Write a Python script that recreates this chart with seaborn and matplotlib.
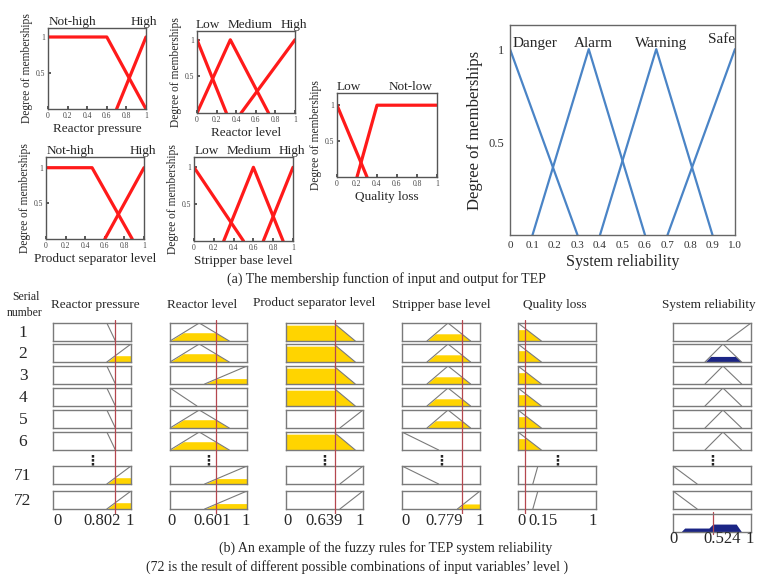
import numpy as np
import pandas as pd
import matplotlib
matplotlib.use("Agg")
import matplotlib.pyplot as plt
import seaborn as sns

# ---------------- data: (a) membership functions ----------------
rp_terms = ["Not-high", "High"]
rp_x = [[0, 0.6, 1.0], [0.7, 1.0]]
rp_y = [[1, 1, 0], [0, 1]]

rl_terms = ["Low", "Medium", "High"]
rl_x = [[0, 0.3], [0, 0.34, 0.73], [0.45, 1.0]]
rl_y = [[1, 0], [0, 1, 0], [0, 1]]

ps_terms = ["Not-high", "High"]
ps_x = [[0, 0.47, 0.88], [0.6, 1.0]]
ps_y = [[1, 1, 0], [0, 1]]

sb_terms = ["Low", "Medium", "High"]
sb_x = [[0, 0.5], [0.3, 0.6, 0.9], [0.7, 1.0]]
sb_y = [[1, 0], [0, 1, 0], [0, 1]]

ql_terms = ["Low", "Not-low"]
ql_x = [[0, 0.3], [0.2, 0.4, 1.0]]
ql_y = [[1, 0], [0, 1, 1]]

sr_terms = ["Danger", "Alarm", "Warning", "Safe"]
sr_x = [[0, 0.3], [0.1, 0.35, 0.6], [0.4, 0.65, 0.9], [0.7, 1.0]]
sr_y = [[1, 0], [0, 1, 0], [0, 1, 0], [0, 1]]
sr_ticks = [0, 0.1, 0.2, 0.3, 0.4, 0.5, 0.6, 0.7, 0.8, 0.9, 1.0]
sr_ticklabels = ["0", "0.1", "0.2", "0.3", "0.4", "0.5", "0.6", "0.7", "0.8", "0.9", "1.0"]

# ---------------- data: (b) rule viewer ----------------
serial = ["1", "2", "3", "4", "5", "6", "71", "72"]
col_names = ["Reactor pressure", "Reactor level", "Product separator level",
             "Stripper base level", "Quality loss", "System reliability"]

view_mf = [
    {"Not-high": ([0, 0.69, 0.80], [1, 1, 0]), "High": ([0.69, 1.0], [0, 1])},
    {"Low": ([0, 0.35], [1, 0]), "Medium": ([0, 0.38, 0.77], [0, 1, 0]), "High": ([0.45, 1.0], [0, 1])},
    {"Not-high": ([0, 0.62, 0.90], [1, 1, 0]), "High": ([0.70, 1.0], [0, 1])},
    {"Low": ([0, 0.47], [1, 0]), "Medium": ([0.32, 0.59, 0.88], [0, 1, 0]), "High": ([0.71, 1.0], [0, 1])},
    {"Low": ([0, 0.30], [1, 0]), "Not-low": ([0.19, 0.255, 1.0], [0, 1, 1])},
    {"Danger": ([0, 0.31], [1, 0]), "Warning": ([0.41, 0.64, 0.88], [0, 1, 0]), "Safe": ([0.69, 1.0], [0, 1])},
]

rp_rule = ["Not-high", "High", "Not-high", "Not-high", "Not-high", "Not-high", "High", "High"]
rl_rule = ["Medium", "Medium", "High", "Low", "Medium", "Medium", "High", "High"]
ps_rule = ["Not-high", "Not-high", "Not-high", "Not-high", "High", "Not-high", "High", "High"]
sb_rule = ["Medium", "Medium", "Medium", "Medium", "Medium", "Low", "Low", "High"]
ql_rule = ["Low", "Low", "Low", "Low", "Low", "Low", "Not-low", "Not-low"]
sr_rule = ["Safe", "Warning", "Warning", "Warning", "Warning", "Warning", "Danger", "Danger"]

rp_level = [0, 0.35, 0, 0, 0, 0, 0.35, 0.35]
rl_level = [0.46, 0.46, 0.30, 0, 0.46, 0.46, 0.30, 0.30]
ps_level = [0.88, 0.88, 0.88, 0.88, 0, 0.88, 0, 0]
sb_level = [0.40, 0.40, 0.40, 0.40, 0.40, 0, 0, 0.28]
ql_level = [0.63, 0.63, 0.63, 0.63, 0.63, 0.63, 0, 0]
sr_level = [0, 0.31, 0, 0, 0, 0, 0, 0]

input_values = ["0.802", "0.601", "0.639", "0.779", "0.15"]
input_marks = [0.80, 0.60, 0.64, 0.77, 0.09]
output_value = "0.524"
output_mark = 0.51
agg_x = [0.10, 0.15, 0.46, 0.51, 0.81, 0.88]
agg_y = [0.0, 0.22, 0.22, 0.44, 0.44, 0.0]

# ---------------- style ----------------
sns.set_theme(style="white")
plt.rcParams["font.family"] = ["Liberation Serif", "DejaVu Sans"]
plt.rcParams["axes.linewidth"] = 1.0

W, H = 758, 577
fig = plt.figure(figsize=(W / 100, H / 100), dpi=100)
fig.patch.set_facecolor("white")


def px_axes(l, t, r, b):
    return fig.add_axes([l / W, 1 - b / H, (r - l) / W, (b - t) / H])


RED = "#ff1a1a"
BLUE = "#4a84c6"


def mf_frame(xs, ys, terms):
    rows = []
    for t, xx, yy in zip(terms, xs, ys):
        for a, b in zip(xx, yy):
            rows.append({"x": a, "y": b, "term": t})
    return pd.DataFrame(rows)


def small_panel(box, xs, ys, terms, xlabel, label_pos, ytop):
    ax = px_axes(*box)
    df = mf_frame(xs, ys, terms)
    sns.lineplot(data=df, x="x", y="y", units="term", estimator=None, sort=False,
                 color=RED, lw=2.3, ax=ax, legend=False)
    ax.set_xlim(0, 1)
    ax.set_ylim(0, ytop)
    ax.set_xticks([0, 0.2, 0.4, 0.6, 0.8, 1])
    ax.set_xticklabels(["0", "0.2", "0.4", "0.6", "0.8", "1"])
    ax.set_yticks([0.5, 1])
    ax.set_yticklabels(["0.5", "1"])
    ax.tick_params(labelsize=5.5, length=2, direction="in", pad=2,
                   colors="#444", bottom=True, left=True)
    for s in ax.spines.values():
        s.set_color("#555")
        s.set_linewidth(1.0)
    ax.set_ylabel("Degree of memberships", fontsize=8.3, labelpad=2)
    ax.set_xlabel(xlabel, fontsize=9.5, labelpad=2)
    for t, p in zip(terms, label_pos):
        ax.text(p, 1.0, t, transform=ax.transAxes, ha="center", va="bottom", fontsize=9.5)
    return ax


small_panel((48, 28, 146, 109), rp_x, rp_y, rp_terms, "Reactor pressure", [0.245, 0.98], 1.125)
small_panel((197, 31, 295, 113), rl_x, rl_y, rl_terms, "Reactor level", [0.11, 0.54, 0.99], 1.12)
small_panel((46, 157, 144, 239), ps_x, ps_y, ps_terms, "Product separator level", [0.245, 0.99], 1.15)
small_panel((194, 157, 293, 241), sb_x, sb_y, sb_terms, "Stripper base level", [0.13, 0.56, 0.99], 1.14)
small_panel((337, 93, 437, 177), ql_x, ql_y, ql_terms, "Quality loss", [0.12, 0.74], 1.17)

# big output panel
axs = px_axes(510, 25, 735, 235)
df_sr = mf_frame(sr_x, sr_y, sr_terms)
sns.lineplot(data=df_sr, x="x", y="y", units="term", estimator=None, sort=False,
             color=BLUE, lw=1.6, ax=axs, legend=False)
axs.set_xlim(0, 1)
axs.set_ylim(0, 1.13)
axs.set_xticks(sr_ticks)
axs.set_xticklabels(sr_ticklabels)
axs.set_yticks([0.5, 1])
axs.set_yticklabels(["0.5", "1"])
axs.tick_params(axis="x", labelsize=8, length=2, direction="in", pad=4, colors="#333")
axs.tick_params(axis="y", labelsize=9, length=2, direction="in", pad=4, colors="#333")
for s in axs.spines.values():
    s.set_color("#666")
    s.set_linewidth(1.0)
axs.set_xlabel("System reliability", fontsize=11.5, labelpad=3)
axs.set_ylabel("Degree of memberships", fontsize=12, labelpad=4)
for t, px, py in zip(sr_terms, [0.11, 0.37, 0.67, 0.94], [1.03, 1.03, 1.03, 1.05]):
    axs.text(px, py, t, ha="center", va="center", fontsize=11)

fig.text(386 / W, 1 - 279 / H, "(a) The membership function of input and output for TEP",
         ha="center", va="center", fontsize=10)

# ---------------- (b) rule viewer ----------------
col_x = [(53, 131), (170, 247), (286, 363), (402, 480), (518, 596), (673, 751)]
row_tops = [323, 344, 366, 388, 410, 432, 466, 491]
cell_h = 18
agg_top = 514
rules = [rp_rule, rl_rule, ps_rule, sb_rule, ql_rule, sr_rule]
levels = [rp_level, rl_level, ps_level, sb_level, ql_level, sr_level]
fill_colors = ["#ffd400"] * 5 + ["#1b2585"]
grid = np.linspace(0, 1, 801)

headers_x = [95, 202, 314, 441, 555, 709]
headers_y = [305, 305, 303, 305, 305, 305]
for name, hx, hy in zip(col_names, headers_x, headers_y):
    fig.text(hx / W, 1 - hy / H, name, ha="center", va="center", fontsize=9.5)
fig.text(26 / W, 1 - 297 / H, "Serial", ha="center", va="center", fontsize=8.5)
fig.text(25 / W, 1 - 313 / H, "number", ha="center", va="center", fontsize=8.5)

for r, top in enumerate(row_tops):
    fig.text(23 / W, 1 - (top + cell_h / 2 + 1) / H, serial[r], ha="center", va="center", fontsize=12.5)

last_axes = []
for c, (l, rr) in enumerate(col_x):
    for r, top in enumerate(row_tops):
        ax = px_axes(l, top, rr, top + cell_h)
        bx, by = view_mf[c][rules[c][r]]
        lev = levels[c][r]
        if lev > 0:
            ax.fill_between(grid, 0, np.minimum(np.interp(grid, bx, by), lev),
                            color=fill_colors[c], lw=0)
        sns.lineplot(x=bx, y=by, color="#7a7a7a", lw=0.8, sort=False, estimator=None, ax=ax)
        ax.set_xlim(0, 1)
        ax.set_ylim(0, 1)
        ax.set_xticks([])
        ax.set_yticks([])
        ax.set_xlabel("")
        ax.set_ylabel("")
        for s in ax.spines.values():
            s.set_color("#7a7a7a")
            s.set_linewidth(1.0)
        if r == 5:
            ax.text(0.5, -0.55, "\u22ee", transform=ax.transAxes, ha="center", va="center",
                    fontsize=10, fontweight="bold", family="DejaVu Sans", clip_on=False)
        if r == len(row_tops) - 1:
            last_axes.append(ax)

# aggregated output
axa = px_axes(col_x[5][0], agg_top, col_x[5][1], agg_top + cell_h)
axa.fill_between(agg_x, 0, agg_y, color="#1b2585", lw=0)
axa.axvline(output_mark, ymin=-0.1, ymax=1.1, color="#b5474f", lw=0.9, clip_on=False)
axa.set_xlim(0, 1)
axa.set_ylim(0, 1)
axa.set_xticks([])
axa.set_yticks([])
for s in axa.spines.values():
    s.set_color("#7a7a7a")
    s.set_linewidth(1.0)

# vertical input markers spanning each input column
for c in range(5):
    l, rr = col_x[c]
    axo = px_axes(l, 320, rr, 514)
    axo.set_xlim(0, 1)
    axo.set_ylim(0, 1)
    axo.axvline(input_marks[c], color="#b5474f", lw=0.9)
    axo.axis("off")
    axo.patch.set_alpha(0)

# bottom value labels
val_px = [(57, 102, 130), (172, 212, 246), (287, 324, 360), (405, 444, 480), (521, 543, 593)]
for c in range(5):
    l, rr = col_x[c]
    ax = last_axes[c]
    ylab = -(521 - (row_tops[-1] + cell_h)) / cell_h
    for txt, p in zip(["0", input_values[c], "1"], val_px[c]):
        ax.text((p - l) / (rr - l), ylab, txt, transform=ax.transAxes, ha="center",
                va="center", fontsize=12, clip_on=False)
l, rr = col_x[5]
for txt, p in zip(["0", output_value, "1"], (673, 722, 750)):
    axa.text((p - l) / (rr - l), -(539 - (agg_top + cell_h)) / cell_h, txt,
             transform=axa.transAxes, ha="center", va="center", fontsize=12, clip_on=False)

fig.text(386 / W, 1 - 548 / H, "(b) An example of the fuzzy rules for TEP system reliability",
         ha="center", va="center", fontsize=10)
fig.text(357 / W, 1 - 567 / H,
         "(72 is the result of different possible combinations of input variables\u2019 level )",
         ha="center", va="center", fontsize=10)

fig.savefig("out.png", dpi=100)
